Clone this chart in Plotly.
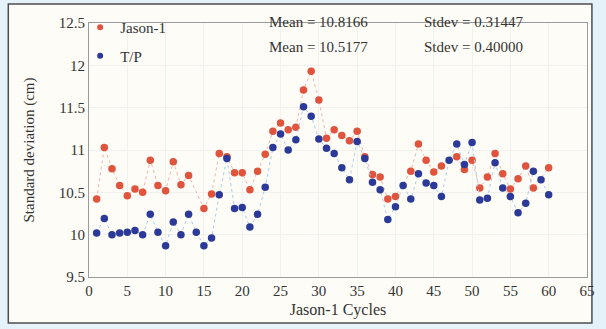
import plotly.graph_objects as go

cycles = list(range(1, 61))
jason = [10.42, 11.03, 10.78, 10.58, 10.46, 10.54, 10.50, 10.88, 10.58, 10.52,
         10.86, 10.59, 10.70, None, 10.31, 10.48, 10.96, 10.92, 10.73, 10.73,
         10.53, 10.75, 10.95, 11.22, 11.32, 11.24, 11.27, 11.71, 11.93, 11.59,
         11.14, 11.24, 11.17, 11.11, 11.22, 10.92, 10.71, 10.68, 10.42, 10.45,
         None, 10.75, 11.07, 10.88, 10.74, 10.81, None, 10.92, 10.77, 10.88,
         10.55, 10.68, 10.96, 10.72, 10.54, 10.66, 10.81, 10.55, None, 10.79]
tp = [10.02, 10.19, 10.00, 10.02, 10.03, 10.05, 10.00, 10.24, 10.03, 9.87,
      10.15, 10.00, 10.24, 10.03, 9.87, 9.96, 10.47, 10.90, 10.31, 10.32,
      10.09, 10.24, 10.56, 11.03, 11.19, 11.00, 11.12, 11.51, 11.40, 11.13,
      11.02, 10.96, 10.79, 10.65, 11.10, 10.90, 10.62, 10.53, 10.18, 10.33,
      10.58, 10.42, 10.72, 10.61, 10.58, 10.45, 10.88, 11.07, 10.83, 11.09,
      10.41, 10.43, 10.85, 10.55, 10.45, 10.26, 10.37, 10.75, 10.65, 10.47]
stats = [("Jason-1", "Mean = 10.8166", "Stdev = 0.31447"),
         ("T/P", "Mean = 10.5177", "Stdev = 0.40000")]

RED = "#e0533c"
BLUE = "#2b3a98"
SERIF = "Liberation Serif"

fig = go.Figure()
fig.add_trace(go.Scatter(x=cycles, y=jason, mode="lines+markers", connectgaps=True,
                         line=dict(color="#f3b3a8", width=1, dash="dot"),
                         marker=dict(color=RED, size=7.5), showlegend=False))
fig.add_trace(go.Scatter(x=cycles, y=tp, mode="lines+markers", connectgaps=True,
                         line=dict(color="#a9cdee", width=1, dash="dot"),
                         marker=dict(color=BLUE, size=7.5), showlegend=False))
# legend-only entries (markers only)
fig.add_trace(go.Scatter(x=[None], y=[None], mode="markers", name=stats[0][0],
                         legendgroup="a", marker=dict(color=RED, size=6)))
fig.add_trace(go.Scatter(x=[None], y=[None], mode="markers", name=stats[1][0],
                         legendgroup="b", marker=dict(color=BLUE, size=6)))

W, H = 606, 329
L, R, T, B = 89, 11, 23, 52
pw, ph = W - L - R, H - T - B

def px(x):
    return (x - L) / pw

def py(y):
    return (H - B - y) / ph

fig.add_shape(type="rect", xref="paper", yref="paper",
              x0=px(7), x1=px(600), y0=py(323), y1=py(4),
              fillcolor="#fdfcf7", line=dict(color="#4d4d4d", width=1.5), layer="below")

annos = []
for i, (name, mean, sd) in enumerate(stats):
    yy = py(22 + 25 * i)
    annos.append(dict(x=px(270), y=yy, xref="paper", yref="paper", text=mean,
                      showarrow=False, xanchor="left", yanchor="middle",
                      font=dict(family=SERIF, size=15, color="#333")))
    annos.append(dict(x=px(427), y=yy, xref="paper", yref="paper", text=sd,
                      showarrow=False, xanchor="left", yanchor="middle",
                      font=dict(family=SERIF, size=15, color="#333")))

fig.update_layout(
    width=W, height=H,
    margin=dict(l=L, r=R, t=T, b=B),
    paper_bgcolor="#e6f2fa",
    plot_bgcolor="#fdfcf7",
    annotations=annos,
    legend=dict(x=px(80), y=py(11), xanchor="left", yanchor="top",
                bgcolor="rgba(0,0,0,0)", itemwidth=30, tracegroupgap=6,
                font=dict(family=SERIF, size=15, color="#333")),
    xaxis=dict(range=[0, 65], dtick=5, tick0=0, showgrid=True, gridcolor="#f1f1ee",
               zeroline=False, showline=True, linecolor="#9a9a9a", mirror=True,
               ticks="", tickfont=dict(family=SERIF, size=15, color="#333"),
               title=dict(text="Jason-1 Cycles", standoff=5,
                          font=dict(family=SERIF, size=16, color="#333"))),
    yaxis=dict(range=[9.5, 12.5], dtick=0.5, tick0=9.5, showgrid=True, gridcolor="#f1f1ee",
               zeroline=False, showline=True, linecolor="#9a9a9a", mirror=True,
               ticks="", tickfont=dict(family=SERIF, size=15, color="#333"),
               title=dict(text="Standard deviation (cm)", standoff=20,
                          font=dict(family=SERIF, size=15, color="#333"))),
)

fig.write_html("out.html")
